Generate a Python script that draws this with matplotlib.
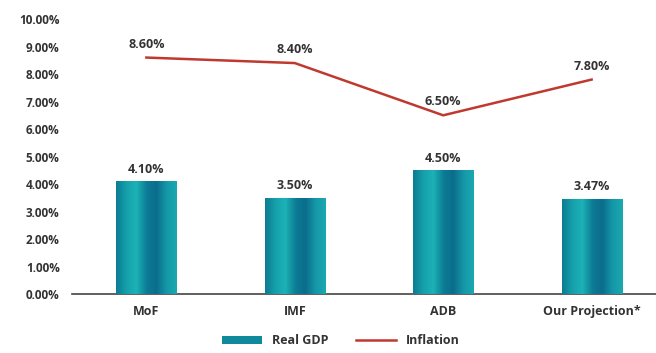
import numpy as np
import matplotlib
matplotlib.use("Agg")
import matplotlib.pyplot as plt
from matplotlib.colors import LinearSegmentedColormap
from matplotlib.patches import Patch
from matplotlib.lines import Line2D

plt.rcParams['font.family'] = ['Open Sans', 'DejaVu Sans']

categories = ['MoF', 'IMF', 'ADB', 'Our Projection*']
real_gdp = [4.10, 3.50, 4.50, 3.47]
inflation = [8.60, 8.40, 6.50, 7.80]

fig = plt.figure(figsize=(6.56, 3.53), dpi=100)
ax = fig.add_axes([0.11, 0.167, 0.905, 0.779])

x = np.arange(len(categories))
bars = ax.bar(x, real_gdp, width=0.405, color='#0e8a9c', zorder=2)

# horizontal gradient on each bar
cmap = LinearSegmentedColormap.from_list(
    'teal', ['#0c7d93', '#16a0ac', '#1cb2b5', '#0d7c96', '#0a6d8c', '#1597a8', '#1aa9b0'])
grad = np.linspace(0, 1, 64).reshape(1, -1)
for b in bars:
    im = ax.imshow(grad, cmap=cmap, aspect='auto', zorder=3,
                   extent=[b.get_x(), b.get_x() + b.get_width(), 0, b.get_height()])
    im.set_clip_path(b)

ax.plot(x, inflation, color='#c0392e', lw=1.8, zorder=4)

for xi, v in zip(x, real_gdp):
    ax.annotate(f'{v:.2f}%', (xi, v), xytext=(0, 4), textcoords='offset points',
                ha='center', va='bottom', fontsize=9, fontweight='bold', color='#333333')
for xi, v in zip(x, inflation):
    ax.annotate(f'{v:.2f}%', (xi, v), xytext=(0, 5), textcoords='offset points',
                ha='center', va='bottom', fontsize=9, fontweight='bold', color='#333333')

ax.set_xlim(-0.5, len(categories) - 0.5)
ax.set_ylim(0, 10)
ax.set_yticks(np.arange(0, 11, 1))
ax.set_yticklabels([f'{v:.2f}%' for v in range(0, 11)])
ax.set_xticks(x)
ax.set_xticklabels(categories)
for lbl in ax.get_xticklabels() + ax.get_yticklabels():
    lbl.set_fontweight('bold')
    lbl.set_color('#333333')
ax.tick_params(axis='y', length=0, labelsize=8.5, pad=9)
ax.tick_params(axis='x', length=0, labelsize=9, pad=8)
for s in ['top', 'right', 'left']:
    ax.spines[s].set_visible(False)
ax.spines['bottom'].set_color('#444444')
ax.spines['bottom'].set_linewidth(1.2)

handles = [Patch(facecolor='#0e8a9c'), Line2D([], [], color='#c0392e', lw=1.8)]
leg = fig.legend(handles, ['Real GDP', 'Inflation'], loc='lower center',
                 bbox_to_anchor=(0.52, -0.015), ncol=2, frameon=False,
                 prop={'weight': 'bold', 'size': 9},
                 handlelength=3.2, handleheight=0.6, columnspacing=2.2)
for t in leg.get_texts():
    t.set_color('#333333')

fig.savefig('out.png', dpi=100)
